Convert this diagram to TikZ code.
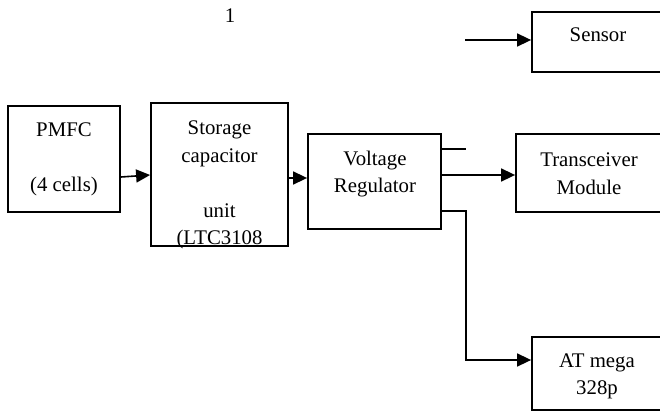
\documentclass[tikz,border=0pt]{standalone}
\usepackage{fontspec}
\setmainfont{Liberation Serif}
\usetikzlibrary{arrows.meta}
\begin{document}
\begin{tikzpicture}[x=1pt,y=-1pt,
  blk/.style={draw,line width=1.8pt,rectangle,inner sep=0pt},
  lbl/.style={align=center,inner sep=0pt,font=\fontsize{20.8pt}{27.6pt}\selectfont},
  conn/.style={line width=1.6pt,-{Triangle[length=14pt,width=13pt]}},
  plain/.style={line width=1.6pt}]
\useasboundingbox (0,0) rectangle (660,414);
\clip (0,0) rectangle (660,414);
% boxes
\node[blk,minimum width=112pt,minimum height=106pt] (pmfc) at (64,159) {};
\node[blk,minimum width=137pt,minimum height=143pt] (stor) at (219.5,174.5) {};
\node[blk,minimum width=133pt,minimum height=95pt] (vreg) at (374.5,181.5) {};
\node[blk,minimum width=146pt,minimum height=78pt] (trx) at (589,173) {};
\node[blk,minimum width=132pt,minimum height=60pt] (sens) at (598,42) {};
\node[blk,minimum width=130pt,minimum height=73pt] (atm) at (597,373.5) {};
% texts
\node[lbl] (t1) at (230,16) {1};
\node[lbl] (tpmfc) at (64,159) {PMFC\\[0pt]\strut\\(4 cells)};
\node[lbl] (tstor) at (219.5,185) {Storage\\capacitor\\\strut\\unit\\(LTC3108};
\node[lbl] (tvreg) at (375,174) {Voltage\\Regulator};
\node[lbl] (ttrx) at (589,174) {Transceiver\\Module};
\node[lbl] (tsens) at (598,35) {Sensor};
\node[lbl] (tatm) at (597,376.5) {AT mega\\328p};
% coordinates
\coordinate (sensin) at (465,40);
\coordinate (stub) at (466,149);
\coordinate (lowA) at (466,211);
\coordinate (lowB) at (466,360);
% connectors
\draw[conn] (pmfc.east |- 0,177) -- (stor.west |- 0,175);
\draw[conn] (stor.east |- 0,178) -- (vreg.west |- 0,178);
\draw[conn] (vreg.east |- 0,175) -- (trx.west |- 0,175);
\draw[plain] (vreg.east |- stub) -- (stub);
\draw[conn] (sensin) -- (sens.west |- sensin);
\draw[conn] (vreg.east |- lowA) -- (lowA) -- (lowB) -- (atm.west |- lowB);
\end{tikzpicture}
\end{document}
